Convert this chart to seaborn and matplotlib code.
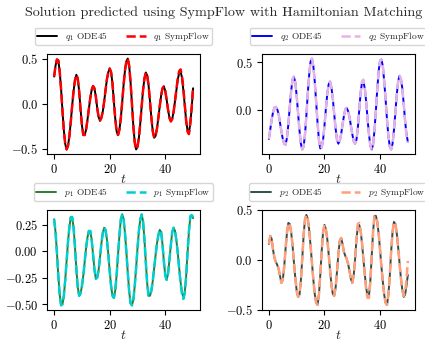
import numpy as np
import matplotlib
matplotlib.use("Agg")
import matplotlib.pyplot as plt
import seaborn as sns

# tiempo de muestreo (paso 0.5)
t = np.linspace(0, 50, 101)

# valores
q1_ode = [0.30, 0.42, 0.49, 0.48, 0.36, 0.16, -0.08, -0.30, -0.45, -0.51,
          -0.47, -0.36, -0.20, -0.02, 0.14, 0.26, 0.32, 0.28, 0.14, -0.06,
          -0.24, -0.35, -0.35, -0.29, -0.18, -0.06, 0.06, 0.15, 0.195, 0.17,
          0.08, -0.05, -0.15, -0.19, -0.16, -0.09, 0.02, 0.15, 0.27, 0.35,
          0.39, 0.35, 0.22, 0.02, -0.17, -0.31, -0.35, -0.29, -0.16, 0.02,
          0.21, 0.37, 0.47, 0.50, 0.42, 0.24, 0.00, -0.25, -0.43, -0.51,
          -0.48, -0.38, -0.22, -0.03, 0.15, 0.28, 0.345, 0.31, 0.20, 0.02,
          -0.16, -0.31, -0.38, -0.36, -0.28, -0.16, -0.03, 0.09, 0.17, 0.19,
          0.14, 0.04, -0.07, -0.16, -0.195, -0.17, -0.09, 0.03, 0.15, 0.27,
          0.34, 0.355, 0.29, 0.15, -0.02, -0.19, -0.30, -0.33, -0.22, -0.05,
          0.17]
q1_symp = [0.30, 0.42, 0.49, 0.48, 0.36, 0.16, -0.08, -0.30, -0.45, -0.51,
           -0.47, -0.36, -0.20, -0.02, 0.14, 0.26, 0.32, 0.28, 0.14, -0.06,
           -0.24, -0.35, -0.35, -0.29, -0.18, -0.06, 0.06, 0.15, 0.195, 0.17,
           0.08, -0.05, -0.15, -0.19, -0.16, -0.09, 0.02, 0.15, 0.27, 0.35,
           0.39, 0.35, 0.22, 0.02, -0.17, -0.31, -0.35, -0.29, -0.16, 0.02,
           0.21, 0.37, 0.47, 0.50, 0.42, 0.24, 0.00, -0.25, -0.43, -0.51,
           -0.48, -0.38, -0.22, -0.03, 0.15, 0.28, 0.345, 0.31, 0.20, 0.02,
           -0.16, -0.31, -0.38, -0.36, -0.28, -0.16, -0.03, 0.09, 0.17, 0.19,
           0.14, 0.04, -0.07, -0.16, -0.20, -0.17, -0.09, 0.03, 0.16, 0.28,
           0.36, 0.38, 0.31, 0.17, -0.01, -0.19, -0.31, -0.34, -0.22, -0.04,
           0.19]

q2_ode = [-0.30, -0.20, -0.10, -0.02, 0.025, 0.035, 0.01, -0.04, -0.13, -0.22,
          -0.30, -0.35, -0.36, -0.29, -0.15, 0.03, 0.20, 0.32, 0.35, 0.29,
          0.15, -0.03, -0.21, -0.35, -0.41, -0.38, -0.25, -0.05, 0.18, 0.37,
          0.51, 0.54, 0.46, 0.30, 0.09, -0.13, -0.31, -0.40, -0.39, -0.31,
          -0.16, 0.01, 0.17, 0.27, 0.30, 0.24, 0.12, -0.04, -0.19, -0.31,
          -0.35, -0.32, -0.25, -0.15, -0.06, 0.01, 0.025, -0.01, -0.07, -0.16,
          -0.25, -0.32, -0.35, -0.31, -0.19, 0.00, 0.18, 0.29, 0.30, 0.23,
          0.09, -0.09, -0.25, -0.37, -0.41, -0.36, -0.21, 0.00, 0.22, 0.41,
          0.52, 0.53, 0.46, 0.30, 0.11, -0.10, -0.27, -0.38, -0.41, -0.35,
          -0.21, -0.03, 0.16, 0.30, 0.36, 0.33, 0.23, 0.07, -0.11, -0.25,
          -0.33]
q2_symp = [-0.30, -0.20, -0.10, -0.02, 0.025, 0.035, 0.01, -0.04, -0.13, -0.22,
           -0.30, -0.35, -0.36, -0.29, -0.15, 0.03, 0.20, 0.32, 0.35, 0.29,
           0.15, -0.03, -0.21, -0.35, -0.41, -0.38, -0.25, -0.05, 0.18, 0.37,
           0.51, 0.54, 0.46, 0.30, 0.09, -0.13, -0.31, -0.40, -0.39, -0.31,
           -0.16, 0.01, 0.17, 0.27, 0.30, 0.24, 0.12, -0.04, -0.19, -0.31,
           -0.35, -0.32, -0.25, -0.15, -0.06, 0.01, 0.025, -0.01, -0.07, -0.16,
           -0.25, -0.32, -0.35, -0.31, -0.19, 0.00, 0.18, 0.30, 0.32, 0.24,
           0.09, -0.09, -0.25, -0.37, -0.41, -0.36, -0.21, 0.00, 0.22, 0.41,
           0.52, 0.53, 0.46, 0.30, 0.11, -0.10, -0.27, -0.38, -0.41, -0.35,
           -0.21, -0.03, 0.16, 0.30, 0.36, 0.33, 0.23, 0.07, -0.11, -0.26,
           -0.34]

p1_ode = [0.30, 0.18, -0.01, -0.23, -0.41, -0.51, -0.50, -0.42, -0.27, -0.09,
          0.09, 0.23, 0.32, 0.32, 0.22, 0.04, -0.17, -0.34, -0.42, -0.40,
          -0.33, -0.23, -0.10, 0.03, 0.13, 0.19, 0.19, 0.11, -0.03, -0.17,
          -0.26, -0.25, -0.18, -0.06, 0.07, 0.17, 0.22, 0.20, 0.11, -0.03,
          -0.19, -0.33, -0.42, -0.44, -0.37, -0.22, -0.03, 0.15, 0.30, 0.345,
          0.30, 0.17, -0.01, -0.20, -0.38, -0.49, -0.51, -0.46, -0.33, -0.16,
          0.03, 0.19, 0.30, 0.345, 0.28, 0.11, -0.11, -0.31, -0.42, -0.42,
          -0.37, -0.28, -0.16, -0.04, 0.07, 0.15, 0.20, 0.18, 0.06, -0.10,
          -0.23, -0.27, -0.21, -0.08, 0.06, 0.18, 0.22, 0.19, 0.10, -0.02,
          -0.16, -0.29, -0.39, -0.43, -0.39, -0.24, -0.02, 0.18, 0.32, 0.335,
          0.31]
p1_symp = [0.30, 0.18, -0.01, -0.23, -0.41, -0.51, -0.50, -0.42, -0.27, -0.09,
           0.09, 0.23, 0.32, 0.32, 0.22, 0.04, -0.17, -0.34, -0.42, -0.40,
           -0.33, -0.23, -0.10, 0.03, 0.13, 0.19, 0.19, 0.11, -0.03, -0.17,
           -0.26, -0.25, -0.18, -0.06, 0.07, 0.17, 0.22, 0.20, 0.11, -0.03,
           -0.19, -0.33, -0.42, -0.44, -0.37, -0.22, -0.03, 0.15, 0.30, 0.345,
           0.30, 0.17, -0.01, -0.20, -0.38, -0.49, -0.51, -0.46, -0.33, -0.16,
           0.03, 0.19, 0.30, 0.345, 0.28, 0.11, -0.11, -0.31, -0.42, -0.42,
           -0.37, -0.28, -0.16, -0.04, 0.07, 0.15, 0.20, 0.18, 0.06, -0.10,
           -0.23, -0.27, -0.21, -0.08, 0.06, 0.18, 0.22, 0.19, 0.10, -0.02,
           -0.17, -0.30, -0.40, -0.45, -0.40, -0.24, -0.01, 0.19, 0.33, 0.34,
           0.32]

p2_ode = [0.16, 0.24, 0.21, 0.10, 0.02, -0.02, -0.05, -0.09, -0.16, -0.23,
          -0.20, -0.07, 0.11, 0.27, 0.37, 0.36, 0.28, 0.15, -0.02, -0.18,
          -0.31, -0.37, -0.35, -0.21, 0.01, 0.25, 0.41, 0.45, 0.41, 0.30,
          0.14, -0.03, -0.20, -0.34, -0.43, -0.45, -0.35, -0.15, 0.09, 0.28,
          0.35, 0.31, 0.21, 0.06, -0.10, -0.25, -0.34, -0.36, -0.28, -0.12,
          0.06, 0.19, 0.22, 0.16, 0.08, 0.04, 0.01, -0.04, -0.11, -0.19,
          -0.23, -0.16, 0.00, 0.20, 0.34, 0.35, 0.29, 0.17, 0.01, -0.14,
          -0.28, -0.36, -0.36, -0.21, 0.04, 0.29, 0.44, 0.44, 0.38, 0.26,
          0.10, -0.07, -0.22, -0.35, -0.43, -0.45, -0.35, -0.16, 0.09, 0.28,
          0.38, 0.36, 0.27, 0.13, -0.03, -0.18, -0.30, -0.37, -0.35, -0.26,
          -0.15]
p2_symp = [0.16, 0.24, 0.21, 0.10, 0.02, -0.02, -0.05, -0.09, -0.16, -0.23,
           -0.20, -0.07, 0.11, 0.27, 0.37, 0.36, 0.28, 0.15, -0.02, -0.18,
           -0.31, -0.37, -0.35, -0.21, 0.01, 0.25, 0.41, 0.45, 0.41, 0.30,
           0.14, -0.03, -0.20, -0.34, -0.43, -0.45, -0.35, -0.15, 0.09, 0.28,
           0.35, 0.31, 0.21, 0.06, -0.10, -0.25, -0.34, -0.36, -0.28, -0.12,
           0.06, 0.19, 0.22, 0.16, 0.08, 0.04, 0.01, -0.04, -0.11, -0.19,
           -0.23, -0.16, 0.00, 0.21, 0.36, 0.37, 0.30, 0.17, 0.01, -0.15,
           -0.30, -0.38, -0.38, -0.22, 0.04, 0.29, 0.44, 0.44, 0.38, 0.26,
           0.10, -0.07, -0.22, -0.35, -0.43, -0.45, -0.35, -0.16, 0.09, 0.28,
           0.38, 0.36, 0.27, 0.13, -0.03, -0.18, -0.30, -0.36, -0.32, -0.20,
           -0.01]

names = ["q_1", "q_2", "p_1", "p_2"]
ode_colors = ["black", "blue", "#2e7d32", "darkslategray"]
symp_colors = ["red", "#e6b3e6", "darkturquoise", "lightsalmon"]
yticks = [[-0.5, 0.0, 0.5], [0.0, 0.5], [-0.5, -0.25, 0.0, 0.25], [-0.5, 0.0, 0.5]]

sns.set_style("ticks")
plt.rcParams["font.family"] = ["cmr10"]
plt.rcParams["mathtext.fontset"] = "cm"
plt.rcParams["axes.formatter.use_mathtext"] = True
plt.rcParams["axes.edgecolor"] = "black"
plt.rcParams["xtick.color"] = "black"
plt.rcParams["ytick.color"] = "black"

fig, axes = plt.subplots(2, 2, figsize=(4.25, 3.42), dpi=100)
fig.subplots_adjust(left=0.111, right=0.976, top=0.842, bottom=0.094,
                    wspace=0.405, hspace=0.56)

series = [(q1_ode, q1_symp), (q2_ode, q2_symp), (p1_ode, p1_symp), (p2_ode, p2_symp)]
for i, ax in enumerate(axes.flat):
    ode, symp = series[i]
    sns.lineplot(x=t, y=ode, ax=ax, color=ode_colors[i], lw=1.4,
                 label=f"${names[i]}$ ODE45")
    sns.lineplot(x=t, y=symp, ax=ax, color=symp_colors[i], lw=1.8,
                 linestyle="--", label=f"${names[i]}$ SympFlow")
    ax.set_xticks([0, 20, 40])
    ax.set_yticks(yticks[i])
    ax.tick_params(labelsize=9, length=3.5, width=0.8, pad=3)
    ax.set_xlabel("$t$", fontsize=10, labelpad=-2)
    ax.legend(loc="lower center", bbox_to_anchor=(0.5, 1.04), ncol=2,
              fontsize=6.8, frameon=True, handlelength=2.1, columnspacing=1.9,
              borderpad=0.25, labelspacing=0.2, handleheight=0.6)

fig.suptitle("Solution predicted using SympFlow with Hamiltonian Matching",
             fontsize=10.2, x=0.527, y=0.962, va="center")

fig.savefig("out.png", dpi=100)
